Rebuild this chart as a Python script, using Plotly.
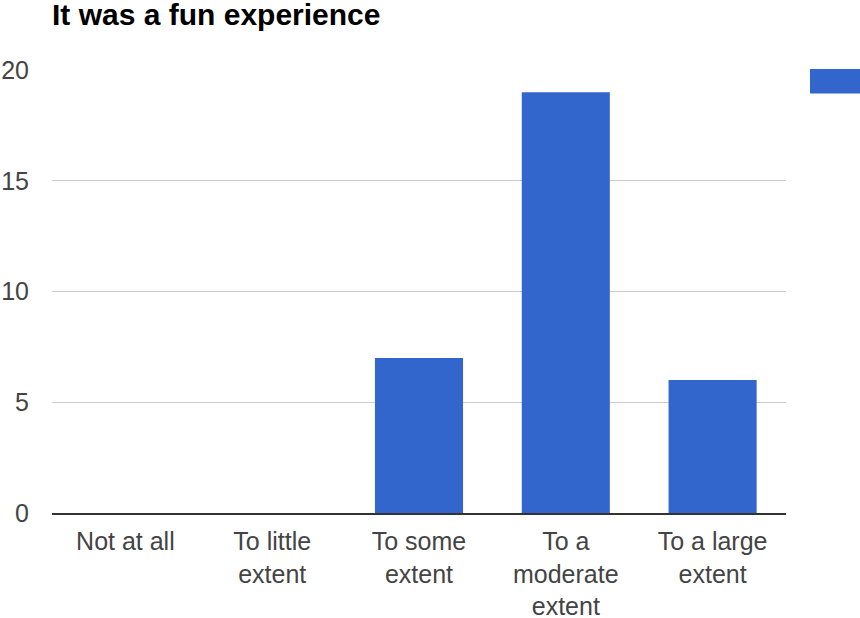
import plotly.graph_objects as go

categories = ["Not at all", "To little<br>extent", "To some<br>extent", "To a<br>moderate<br>extent", "To a large<br>extent"]
counts = [0, 0, 7, 19, 6]
y_ticks = [0, 5, 10, 15, 20]

W, H = 860, 618
L, T, R, B = 52, 70, 74, 105
PW, PH = W - L - R, H - T - B

fig = go.Figure()
fig.add_trace(go.Bar(
    x=categories, y=counts, marker=dict(color="#3366cc", line=dict(width=0)),
    width=0.6, showlegend=False,
))

fig.update_layout(
    width=W, height=H,
    margin=dict(l=L, r=R, t=T, b=B, autoexpand=False),
    paper_bgcolor="white", plot_bgcolor="white",
    title=dict(text="<b>It was a fun experience</b>", x=L/W, xanchor="left",
               y=1 - 4/H, yanchor="top",
               font=dict(family="Liberation Sans, Arial", size=30, color="#000000")),
    font=dict(family="Liberation Sans, Arial", size=25, color="#444444"),
    xaxis=dict(showgrid=False, showline=True, linecolor="#333333", linewidth=2,
               ticks="", tickfont=dict(size=25, color="#444444"), fixedrange=True,
               automargin=False, ticklabelstandoff=5),
    yaxis=dict(range=[0, 20], tickvals=y_ticks, showgrid=True, gridcolor="#cccccc",
               gridwidth=1, zeroline=False, showline=False, ticks="",
               ticklabelstandoff=22, tickfont=dict(size=25, color="#444444"),
               automargin=False, fixedrange=True),
    shapes=[dict(type="rect", xref="paper", yref="paper",
                 x0=(810-L)/PW, x1=(862-L)/PW,
                 y0=(H - B - 93.5)/PH, y1=(H - B - 69)/PH,
                 fillcolor="#3366cc", line=dict(width=0))],
)

fig.write_html("out.html", config={"displayModeBar": False},
               post_script="document.body.style.margin='0px';document.body.style.overflow='hidden';")
